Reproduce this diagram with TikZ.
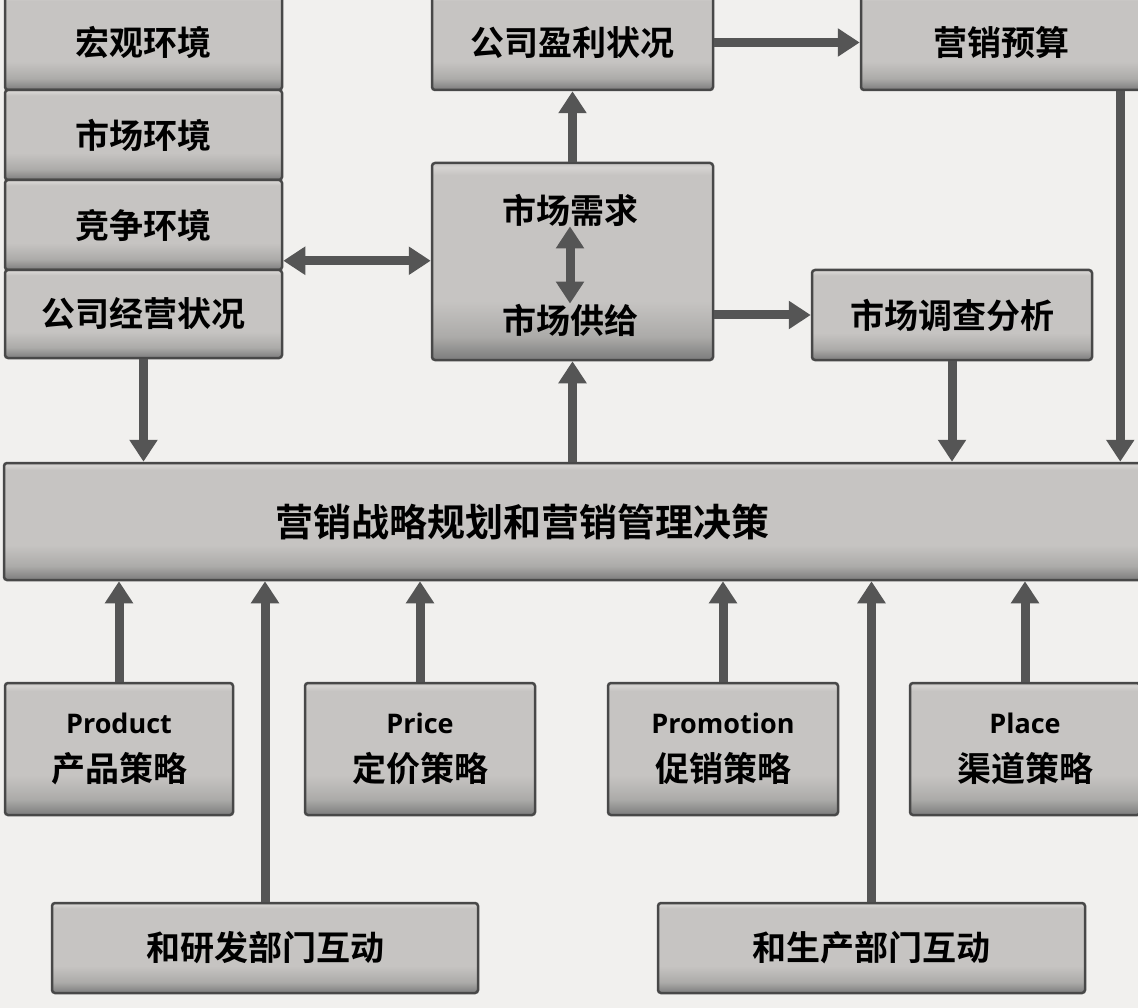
\documentclass[tikz,border=0pt]{standalone}
\usepackage{fontspec}
\newfontfamily\cjk{Noto Sans CJK SC}[BoldFont={Noto Sans CJK SC Bold}]
\newfontfamily\enfont{Open Sans}
\usetikzlibrary{arrows.meta,calc}
\definecolor{bg}{RGB}{241,240,238}
\definecolor{boxtop}{RGB}{198,196,194}
\definecolor{boxhi}{RGB}{214,212,210}
\definecolor{boxmid}{RGB}{172,171,169}
\definecolor{boxbot}{RGB}{124,124,124}
\definecolor{boxline}{RGB}{72,72,72}
\definecolor{arrcol}{RGB}{85,85,85}
\pgfdeclareverticalshading{boxshade}{100bp}{color(0bp)=(boxbot); color(25bp)=(boxbot); color(31bp)=(boxmid); color(40bp)=(boxtop); color(72bp)=(boxtop); color(74bp)=(boxhi); color(75bp)=(boxtop); color(100bp)=(boxtop)}
\begin{document}
\begin{tikzpicture}[x=1pt,y=-1pt,
  box/.style={draw=boxline, line width=2.5pt, rounded corners=3pt,
    shading=boxshade,
    inner sep=0pt, align=center, text=black,
    font=\cjk\bfseries\fontsize{34}{40}\selectfont},
  lbl/.style={inner sep=0pt, align=center, text=black,
    font=\cjk\bfseries\fontsize{34}{40}\selectfont},
  arr/.style={draw=arrcol, line width=9pt, -{Triangle[width=27pt,length=22pt]}},
  darr/.style={draw=arrcol, line width=9pt, {Triangle[width=27pt,length=22pt]}-{Triangle[width=27pt,length=22pt]}}]
\fill[bg] (0,0) rectangle (1138,1008);
\useasboundingbox (0,0) rectangle (1138,1008);

% left stack
\node[box, minimum width=277pt, minimum height=95pt] (m1) at (143.5,42.5) {宏观环境};
\node[box, minimum width=277pt, minimum height=90pt] (m2) at (143.5,135) {市场环境};
\node[box, minimum width=277pt, minimum height=90pt] (m3) at (143.5,225) {竞争环境};
\node[box, minimum width=277pt, minimum height=88pt] (m4) at (143.5,314) {公司经营状况};

% top
\node[box, minimum width=281pt, minimum height=95pt] (profit) at (572.5,42.5) {公司盈利状况};
\node[box, minimum width=280pt, minimum height=95pt] (budget) at (1001,42.5) {营销预算};

% market box
\node[box, minimum width=281pt, minimum height=197pt] (market) at (572.5,261.5) {};
\node[lbl] (demand) at (570,210) {市场需求};
\node[lbl] (supply) at (570,320) {市场供给};

\node[box, minimum width=280pt, minimum height=90pt] (research) at (952,315) {市场调查分析};

% main bar
\node[box, minimum width=1137pt, minimum height=117pt] (bar) at (572.5,521.5) {};
\node[lbl, font=\cjk\bfseries\fontsize{38}{44}\selectfont] (bartext) at (522,522) {营销战略规划和营销管理决策};

% 4P
\node[box, minimum width=228pt, minimum height=132pt] (product) at (119,749) {{\enfont\bfseries\fontsize{27}{30}\selectfont Product}\\[8pt]产品策略};
\node[box, minimum width=230pt, minimum height=132pt] (price) at (420,749) {{\enfont\bfseries\fontsize{27}{30}\selectfont Price}\\[8pt]定价策略};
\node[box, minimum width=230pt, minimum height=132pt] (promo) at (723,749) {{\enfont\bfseries\fontsize{27}{30}\selectfont Promotion}\\[8pt]促销策略};
\node[box, minimum width=230pt, minimum height=132pt] (place) at (1025,749) {{\enfont\bfseries\fontsize{27}{30}\selectfont Place}\\[8pt]渠道策略};

% bottom
\node[box, minimum width=426pt, minimum height=90pt] (rd) at (265,948) {和研发部门互动};
\node[box, minimum width=427pt, minimum height=90pt] (mfg) at (871.5,948) {和生产部门互动};

% arrows
\draw[arr] (m4.south) -- (m4.south |- bar.north);
\draw[darr] ([yshift=8pt]m4.north east) -- ([yshift=8pt]market.west |- m4.north);
\draw[arr] (market.north) -- (profit.south);
\draw[arr] (profit.east) -- (budget.west);
\draw[arr] ([xshift=-22pt]budget.south east) -- ([xshift=-22pt]budget.south east |- bar.north);
\draw[arr] (market.east |- research.west) -- (research.west);
\draw[arr] (research.south) -- (research.south |- bar.north);
\draw[arr] (bar.north -| market.south) -- (market.south);
\draw[darr] (demand.south) -- (supply.north);
\draw[arr] (product.north) -- (product.north |- bar.south);
\draw[arr] (price.north) -- (price.north |- bar.south);
\draw[arr] (promo.north) -- (promo.north |- bar.south);
\draw[arr] (place.north) -- (place.north |- bar.south);
\draw[arr] (rd.north) -- (rd.north |- bar.south);
\draw[arr] (mfg.north) -- (mfg.north |- bar.south);
\end{tikzpicture}
\end{document}
